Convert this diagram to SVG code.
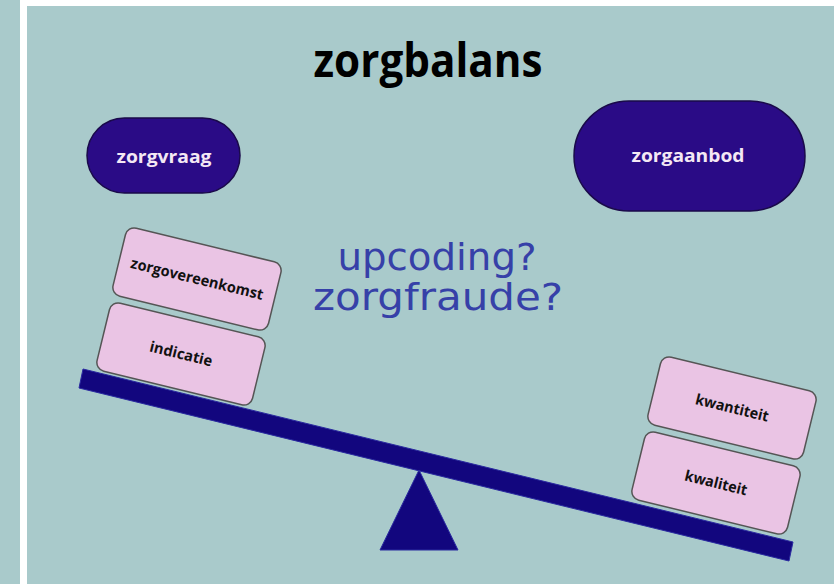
<svg xmlns="http://www.w3.org/2000/svg" width="834" height="584" viewBox="0 0 834 584">
  <style>
    .bg { fill: #A9CACB; }
    .pill { fill: #2A0B86; stroke: #1A0A4A; stroke-width: 1.5; }
    .pilltxt { font-family: "Open Sans", "Noto Sans", sans-serif; font-weight: bold; font-size: 18px; fill: #F4E8F4; text-anchor: middle; }
    .box { fill: #EAC4E4; stroke: #555555; stroke-width: 1.5; }
    .boxtxt { font-family: "Open Sans", "Noto Sans", sans-serif; font-weight: bold; font-size: 15px; fill: #111111; text-anchor: middle; }
    .title { font-family: "Open Sans", "Noto Sans", sans-serif; font-weight: bold; font-size: 46px; fill: #000000; text-anchor: middle; }
    .q { font-family: "DejaVu Sans", "Noto Sans", sans-serif; font-size: 38px; fill: #3640A8; text-anchor: middle; }
    .beam { fill: #12067E; stroke: #2A2AA0; stroke-width: 1; }
  </style>
  <rect x="0" y="0" width="834" height="584" fill="#FFFFFF"/>
  <rect class="bg" x="0" y="0" width="20" height="584"/>
  <rect class="bg" x="27" y="6" width="807" height="578"/>

  <g id="title">
    <text class="title" x="428" y="77" textLength="229" lengthAdjust="spacingAndGlyphs">zorgbalans</text>
  </g>

  <g id="zorgvraag">
    <rect class="pill" x="87" y="118" width="153" height="75" rx="37.5"/>
    <text class="pilltxt" x="164" y="163" textLength="95" lengthAdjust="spacingAndGlyphs">zorgvraag</text>
  </g>

  <g id="zorgaanbod">
    <rect class="pill" x="574" y="101" width="231" height="110" rx="55"/>
    <text class="pilltxt" x="688" y="162" textLength="113" lengthAdjust="spacingAndGlyphs">zorgaanbod</text>
  </g>

  <g id="question">
    <text class="q" x="437" y="270" textLength="199" lengthAdjust="spacingAndGlyphs">upcoding?</text>
    <text class="q" x="438" y="310" textLength="250" lengthAdjust="spacingAndGlyphs">zorgfraude?</text>
  </g>

  <g id="balance">
    <polygon class="beam" points="83,369 793,542 789,561 79,388"/>
    <polygon class="beam" points="419,470 458,550 380,550" stroke="#0A0450"/>
  </g>

  <g id="zorgovereenkomst" transform="translate(197,279) rotate(13.7)">
    <rect class="box" x="-80" y="-35" width="160" height="70" rx="9"/>
    <text class="boxtxt" x="0" y="5" textLength="136" lengthAdjust="spacingAndGlyphs">zorgovereenkomst</text>
  </g>

  <g id="indicatie" transform="translate(181,354) rotate(13.7)">
    <rect class="box" x="-80" y="-35" width="160" height="70" rx="9"/>
    <text class="boxtxt" x="0" y="5" textLength="64" lengthAdjust="spacingAndGlyphs">indicatie</text>
  </g>

  <g id="kwantiteit" transform="translate(732,408) rotate(13.7)">
    <rect class="box" x="-80" y="-35" width="160" height="70" rx="9"/>
    <text class="boxtxt" x="0" y="5" textLength="75" lengthAdjust="spacingAndGlyphs">kwantiteit</text>
  </g>

  <g id="kwaliteit" transform="translate(716,483) rotate(13.7)">
    <rect class="box" x="-80" y="-35" width="160" height="70" rx="9"/>
    <text class="boxtxt" x="0" y="5" textLength="64" lengthAdjust="spacingAndGlyphs">kwaliteit</text>
  </g>

  <g id="connectors"></g>
</svg>
